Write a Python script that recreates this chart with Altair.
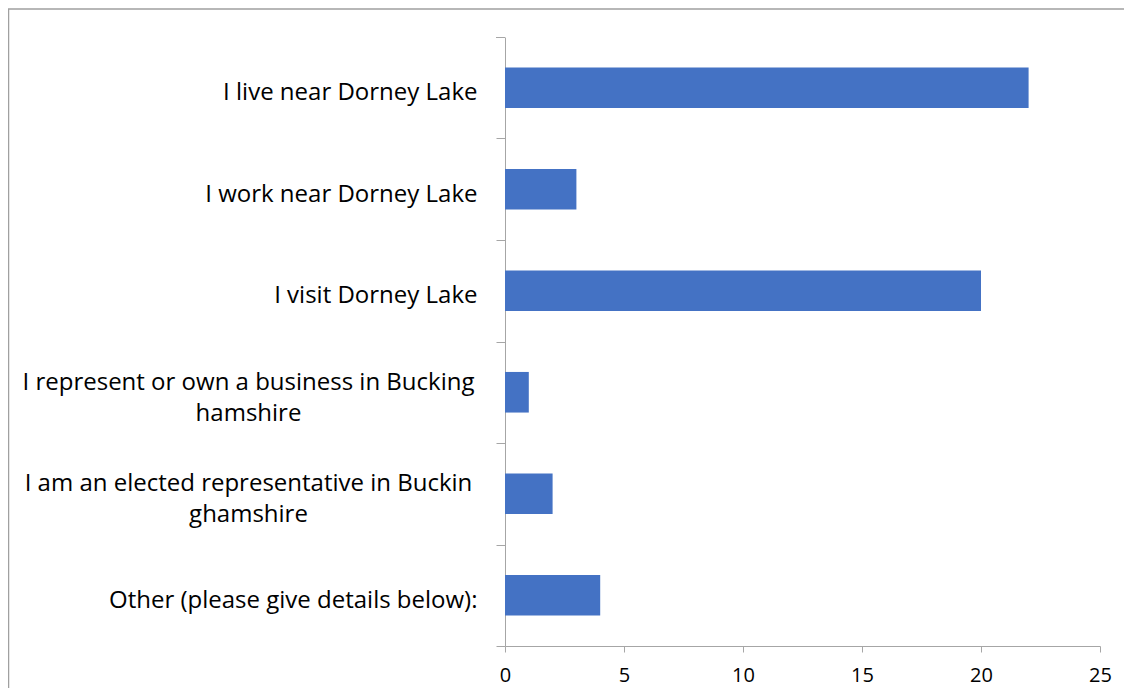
import altair as alt
import pandas as pd

categories = [
    "I live near Dorney Lake",
    "I work near Dorney Lake",
    "I visit Dorney Lake",
    "I represent or own a business in Bucking\nhamshire",
    "I am an elected representative in Buckin\nghamshire",
    "Other (please give details below):",
]
values = [22, 3, 20, 1, 2, 4]
x_ticks = [0, 5, 10, 15, 20, 25]

df = pd.DataFrame({"category": categories, "value": values})
one_df = pd.DataFrame({"k": [1]})

FONT = "Open Sans"
AXIS_GRAY = "#A6A6A6"
STEP = 609 / 6
multi = [c for c in categories if "\n" in c]
multi_test = " || ".join([f"datum.value == {repr(c)}" for c in multi]).replace("\n", "\\n")

bars = alt.Chart(df).mark_bar(color="#4472C4").encode(
    x=alt.X("value:Q",
            scale=alt.Scale(domain=[0, 25], nice=False),
            axis=alt.Axis(values=x_ticks, title=None, grid=False,
                          domainColor=AXIS_GRAY, tickColor=AXIS_GRAY,
                          tickSize=6, labelFont=FONT, labelFontSize=20,
                          labelColor="#000000", labelPadding=13,
                          labelFlush=False)),
    y=alt.Y("category:N", sort=categories,
            scale=alt.Scale(paddingInner=0.6, paddingOuter=0.3),
            axis=alt.Axis(title=None, tickOffset=STEP / 2,
                          domainColor=AXIS_GRAY, tickColor=AXIS_GRAY,
                          tickSize=9, labelFont=FONT, labelFontSize=24,
                          labelColor="#000000",
                          labelExpr="split(datum.label, '\\n')",
                          labelLineHeight=31, labelLimit=700,
                          labelAlign={"condition": {"test": multi_test, "value": "center"}, "value": "right"},
                          labelPadding={"condition": {"test": multi_test, "value": 248}, "value": 19},
                          labelOffset={"condition": {"test": multi_test, "value": -10 - STEP / 2}, "value": 5 - STEP / 2})),
)

top_tick = alt.Chart(one_df).mark_rule(color=AXIS_GRAY, strokeWidth=1).encode(
    x=alt.value(-9), x2=alt.value(0), y=alt.value(0.5)
)

frame = alt.Chart(one_df).mark_rect(fill=None, stroke="#A0A0A0", strokeWidth=1.5).encode(
    x=alt.value(-496.5), x2=alt.value(800), y=alt.value(-28), y2=alt.value(800)
)

chart = alt.layer(frame, bars, top_tick).properties(
    width=595, height=609,
    padding={"left": 497, "top": 29, "right": 24, "bottom": 42},
    autosize=alt.AutoSizeParams(type="none"),
).configure_view(stroke=None)

chart.save("out.html", embed_options={"renderer": "svg", "actions": False})
